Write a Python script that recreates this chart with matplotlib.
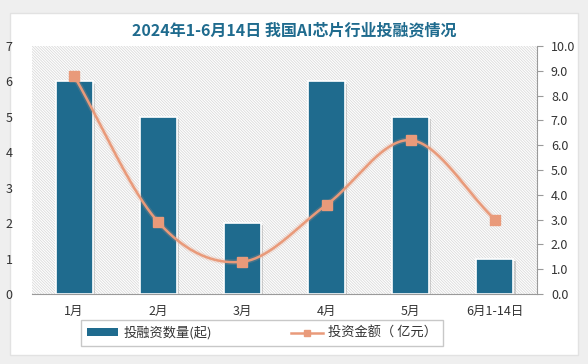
import numpy as np
import matplotlib
matplotlib.use("Agg")
import matplotlib.pyplot as plt
import matplotlib.patheffects as pe
from matplotlib.patches import Rectangle
from matplotlib.lines import Line2D

plt.rcParams['font.family'] = ['Noto Sans CJK SC', 'DejaVu Sans']
plt.rcParams['hatch.color'] = '#dadada'
plt.rcParams['hatch.linewidth'] = 0.6

# datos
categories = ['1月', '2月', '3月', '4月', '5月', '6月1-14日']
deal_count = [6, 5, 2, 6, 5, 1]
invest_amount = [8.8, 2.9, 1.3, 3.6, 6.2, 3.0]
left_ticks = [0, 1, 2, 3, 4, 5, 6, 7]
right_ticks = [0, 1, 2, 3, 4, 5, 6, 7, 8, 9, 10]

BAR_COLOR = '#1f6b8e'
LINE_COLOR = '#e99a7a'


def smooth_curve(x, y, n=40):
    # curva tipo Catmull-Rom para imitar la linea suavizada
    x = np.asarray(x, float)
    y = np.asarray(y, float)
    px = np.concatenate([[2 * x[0] - x[1]], x, [2 * x[-1] - x[-2]]])
    py = np.concatenate([[2 * y[0] - y[1]], y, [2 * y[-1] - y[-2]]])
    xs, ys = [], []
    t = np.linspace(0, 1, n)
    for i in range(1, len(px) - 2):
        for arr, out in ((px, xs), (py, ys)):
            p0, p1, p2, p3 = arr[i - 1], arr[i], arr[i + 1], arr[i + 2]
            seg = 0.5 * ((2 * p1) + (-p0 + p2) * t
                         + (2 * p0 - 5 * p1 + 4 * p2 - p3) * t ** 2
                         + (-p0 + 3 * p1 - 3 * p2 + p3) * t ** 3)
            out.extend(seg)
    return np.array(xs), np.array(ys)


fig = plt.figure(figsize=(5.88, 3.64), dpi=100, facecolor='#efefef')
# tarjeta blanca
card = Rectangle((10 / 588, 1 - 355 / 364), 568 / 588, 342 / 364,
                 transform=fig.transFigure, facecolor='white',
                 edgecolor='#e2e2e2', linewidth=1, zorder=-10)
fig.add_artist(card)

ax = fig.add_axes([32 / 588, 70 / 364, 505 / 588, 248 / 364])
ax.set_facecolor('white')
ax.patch.set_hatch('\\' * 12)
ax.patch.set_edgecolor('#dadada')
ax.patch.set_linewidth(0)

x = np.arange(len(categories))
bars = ax.bar(x, deal_count, width=0.44, color=BAR_COLOR, edgecolor='white',
              linewidth=1.2, zorder=2)
for b in bars:
    b.set_path_effects([pe.SimplePatchShadow(offset=(1.5, -1.5), shadow_rgbFace='#888888', alpha=0.35),
                        pe.Normal()])

ax.set_xlim(-0.5, len(categories) - 0.5)
ax.set_ylim(0, 7)
ax.set_yticks(left_ticks)
ax.set_xticks(x)
ax.set_xticklabels(categories, fontsize=9, color='#333333')
ax.tick_params(axis='x', length=0, pad=8)
ax.tick_params(axis='y', length=0, pad=14, labelsize=9, labelcolor='#333333')
for s in ['top', 'right', 'left']:
    ax.spines[s].set_visible(False)
ax.spines['bottom'].set_color('#9a9a9a')

ax2 = ax.twinx()
ax2.set_ylim(0, 10)
ax2.set_yticks(right_ticks)
ax2.set_yticklabels([f'{v:.1f}' for v in right_ticks])
ax2.tick_params(axis='y', length=4, color='#9a9a9a', pad=6, labelsize=9, labelcolor='#333333')
for s in ['top', 'left', 'bottom']:
    ax2.spines[s].set_visible(False)
ax2.spines['right'].set_color('#9a9a9a')

sx, sy = smooth_curve(x, invest_amount)
ax2.plot(sx, sy, color=LINE_COLOR, linewidth=1.8, zorder=3,
         path_effects=[pe.Stroke(linewidth=4, foreground=LINE_COLOR, alpha=0.2), pe.Normal()])
ax2.plot(x, invest_amount, linestyle='none', marker='s', markersize=6.5,
         color=LINE_COLOR, zorder=4)

fig.text(0.5, 1 - 30 / 364, '2024年1-6月14日 我国AI芯片行业投融资情况', ha='center', va='center',
         fontsize=11.5, fontweight='bold', color='#1f6b8e')

handles = [Rectangle((0, 0), 1, 1, facecolor=BAR_COLOR, edgecolor='none'),
           Line2D([0], [0], color=LINE_COLOR, marker='s', markersize=5, linewidth=1.8)]
leg = fig.legend(handles, ['投融资数量(起)', '投资金额（ 亿元）'], loc='center',
                 bbox_to_anchor=(262 / 588, 1 - 333 / 364), ncol=2, fontsize=9.5,
                 frameon=True, fancybox=False, edgecolor='#c8c8c8', framealpha=1,
                 handlelength=2.4, handleheight=0.5, handletextpad=0.4,
                 columnspacing=6, borderpad=0.45, borderaxespad=0)
leg.get_frame().set_linewidth(1.0)
for t in leg.get_texts():
    t.set_color('#333333')

fig.savefig('out.png', dpi=100, facecolor=fig.get_facecolor())
